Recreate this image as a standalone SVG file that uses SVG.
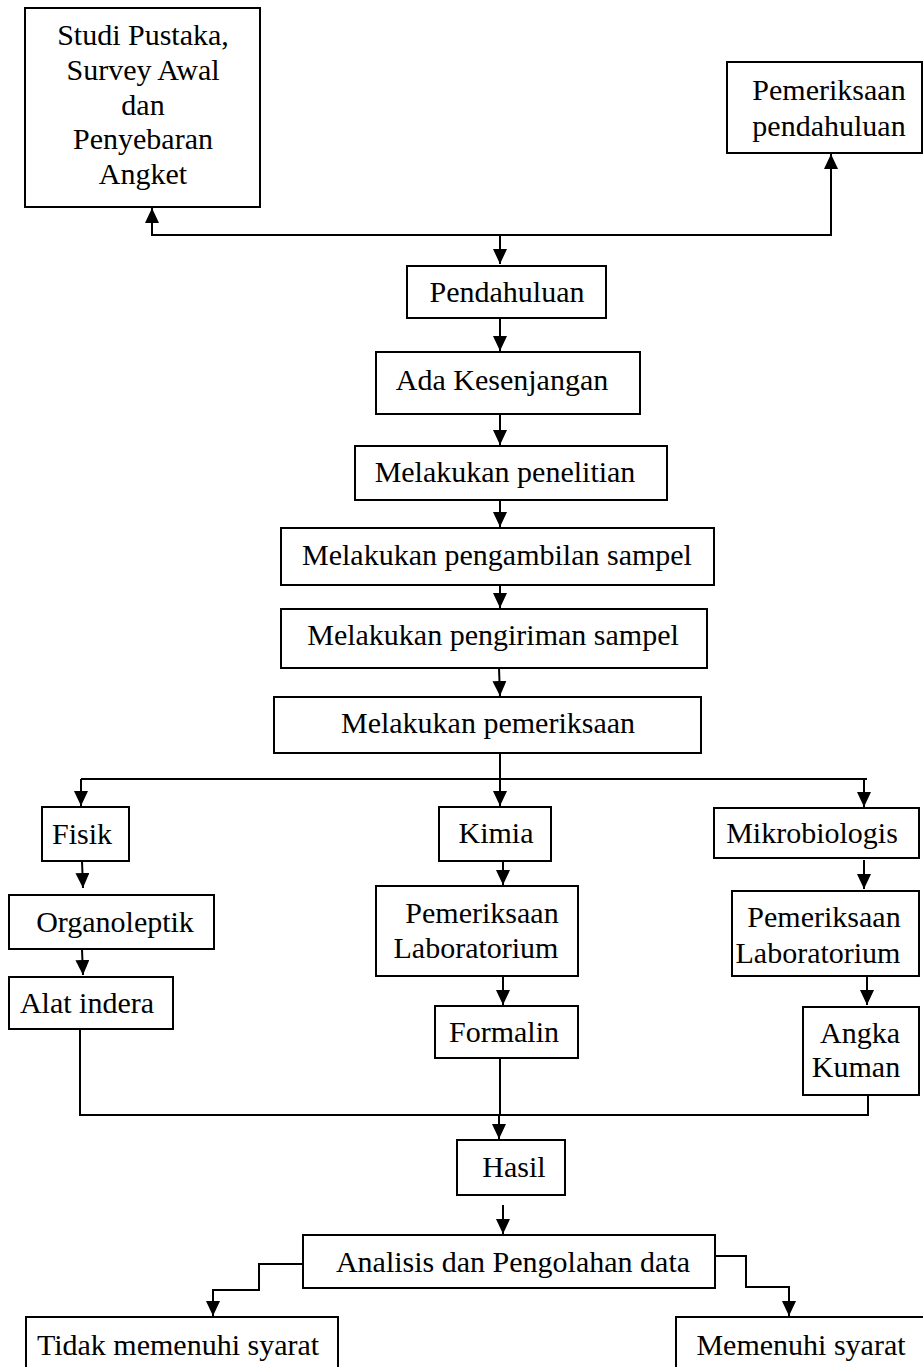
<svg xmlns="http://www.w3.org/2000/svg" width="923" height="1367" viewBox="0 0 923 1367">
<defs>
<style>
.box{fill:#fff;stroke:#000;stroke-width:2}
.t{font-family:"Liberation Serif","Times New Roman",serif;font-size:30px;fill:#000;text-anchor:middle}
.c{fill:none;stroke:#000;stroke-width:2}
</style>
<marker id="ah" markerUnits="userSpaceOnUse" markerWidth="15" markerHeight="14" refX="15" refY="7" orient="auto">
<path d="M0,0 L15,7 L0,14 z" fill="#000"/>
</marker>
</defs>
<rect width="923" height="1367" fill="#fff"/>
<g id="connectors">
<path class="c" d="M500,235 H152 V208" marker-end="url(#ah)"/>
<path class="c" d="M500,235 H831 V154" marker-end="url(#ah)"/>
<path class="c" d="M500,235 V264" marker-end="url(#ah)"/>
<path class="c" d="M500,318 V351" marker-end="url(#ah)"/>
<path class="c" d="M500,414 V445" marker-end="url(#ah)"/>
<path class="c" d="M500,500 V527" marker-end="url(#ah)"/>
<path class="c" d="M500,585 V608" marker-end="url(#ah)"/>
<path class="c" d="M499,668 L500,696" marker-end="url(#ah)"/>
<path class="c" d="M500,753 V779 M81,779 H867"/>
<path class="c" d="M81,779 V806" marker-end="url(#ah)"/>
<path class="c" d="M500,779 V806" marker-end="url(#ah)"/>
<path class="c" d="M864,779 V807" marker-end="url(#ah)"/>
<path class="c" d="M82,861 L83,888" marker-end="url(#ah)"/>
<path class="c" d="M82,949 L83,975" marker-end="url(#ah)"/>
<path class="c" d="M503,861 V885" marker-end="url(#ah)"/>
<path class="c" d="M503,976 V1005" marker-end="url(#ah)"/>
<path class="c" d="M864,860 V889" marker-end="url(#ah)"/>
<path class="c" d="M867,976 V1005" marker-end="url(#ah)"/>
<path class="c" d="M80,1029 V1115 H868 V1095 M500,1058 V1115"/>
<path class="c" d="M499,1115 V1139" marker-end="url(#ah)"/>
<path class="c" d="M503,1205 V1234" marker-end="url(#ah)"/>
<path class="c" d="M303,1264 H259 V1290 H213 V1316" marker-end="url(#ah)"/>
<path class="c" d="M715,1256 H746 V1287 H789 V1316" marker-end="url(#ah)"/>
</g>
<g id="studi"><rect class="box" x="25" y="8" width="235" height="199"/>
<text class="t" x="143" y="45">Studi Pustaka,</text>
<text class="t" x="143" y="80">Survey Awal</text>
<text class="t" x="143" y="115">dan</text>
<text class="t" x="143" y="149">Penyebaran</text>
<text class="t" x="143" y="184">Angket</text></g>
<g id="pemeriksaan-pendahuluan"><rect class="box" x="727" y="62" width="195" height="91"/>
<text class="t" x="829" y="100">Pemeriksaan</text>
<text class="t" x="829" y="136">pendahuluan</text></g>
<g id="pendahuluan"><rect class="box" x="407" y="266" width="199" height="52"/>
<text class="t" x="507" y="302">Pendahuluan</text></g>
<g id="ada"><rect class="box" x="376" y="352" width="264" height="62"/>
<text class="t" x="502" y="390">Ada Kesenjangan</text></g>
<g id="penelitian"><rect class="box" x="355" y="446" width="312" height="54"/>
<text class="t" x="505" y="482">Melakukan penelitian</text></g>
<g id="pengambilan"><rect class="box" x="281" y="528" width="433" height="57"/>
<text class="t" x="497" y="565">Melakukan pengambilan sampel</text></g>
<g id="pengiriman"><rect class="box" x="281" y="609" width="426" height="59"/>
<text class="t" x="493" y="645">Melakukan pengiriman sampel</text></g>
<g id="pemeriksaan"><rect class="box" x="274" y="697" width="427" height="56"/>
<text class="t" x="488" y="733">Melakukan pemeriksaan</text></g>
<g id="fisik"><rect class="box" x="42" y="807" width="87" height="54"/>
<text class="t" x="82" y="844">Fisik</text></g>
<g id="organoleptik"><rect class="box" x="9" y="895" width="205" height="54"/>
<text class="t" x="115" y="932">Organoleptik</text></g>
<g id="alat"><rect class="box" x="9" y="977" width="164" height="52"/>
<text class="t" x="87" y="1013">Alat indera</text></g>
<g id="kimia"><rect class="box" x="439" y="807" width="112" height="54"/>
<text class="t" x="496" y="843">Kimia</text></g>
<g id="lab-kimia"><rect class="box" x="376" y="886" width="202" height="90"/>
<text class="t" x="482" y="923">Pemeriksaan</text>
<text class="t" x="476" y="958">Laboratorium</text></g>
<g id="formalin"><rect class="box" x="435" y="1006" width="143" height="52"/>
<text class="t" x="504" y="1042">Formalin</text></g>
<g id="mikro"><rect class="box" x="714" y="808" width="205" height="50"/>
<text class="t" x="812" y="843">Mikrobiologis</text></g>
<g id="lab-mikro"><rect class="box" x="732" y="891" width="187" height="85"/>
<text class="t" x="824" y="927">Pemeriksaan</text>
<text class="t" x="818" y="963">Laboratorium</text></g>
<g id="angka"><rect class="box" x="803" y="1007" width="116" height="88"/>
<text class="t" x="860" y="1043">Angka</text>
<text class="t" x="856" y="1077">Kuman</text></g>
<g id="hasil"><rect class="box" x="457" y="1140" width="108" height="55"/>
<text class="t" x="514" y="1177">Hasil</text></g>
<g id="analisis"><rect class="box" x="303" y="1235" width="412" height="53"/>
<text class="t" x="513" y="1272">Analisis dan Pengolahan data</text></g>
<g id="tidak"><rect class="box" x="26" y="1317" width="312" height="70"/>
<text class="t" x="178" y="1355">Tidak memenuhi syarat</text></g>
<g id="memenuhi"><rect class="box" x="676" y="1317" width="270" height="70"/>
<text class="t" x="801" y="1355">Memenuhi syarat</text></g>
</svg>
